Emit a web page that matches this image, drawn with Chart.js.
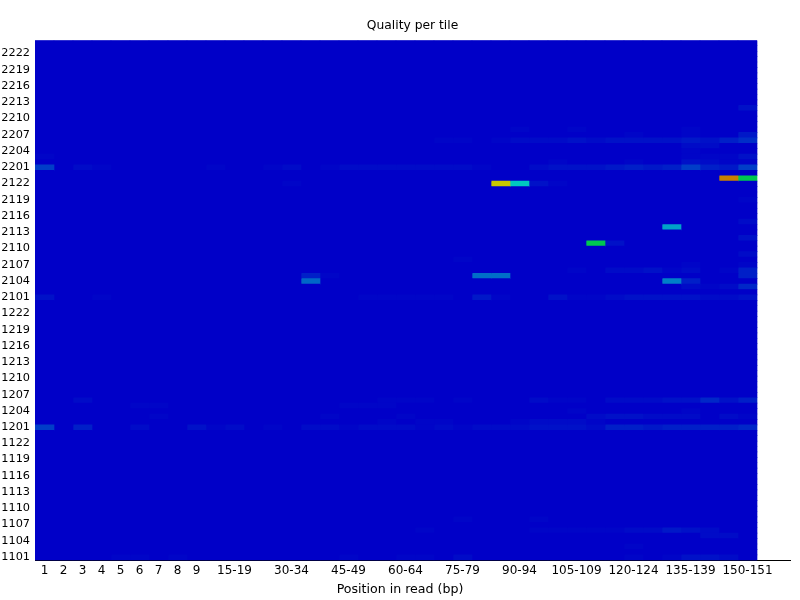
<!DOCTYPE html>
<html>
<head>
<meta charset="utf-8">
<title>Quality per tile</title>
<script src="https://cdn.jsdelivr.net/npm/chart.js@4"></script>
<style>
    body { margin: 0; background: #fff; }
    canvas { display: block; }
</style>
</head>
<body>
<canvas id="tileChart" width="800" height="600"></canvas>
<script>
// Positions en abscisse (bp)
const positions = ['1', '2', '3', '4', '5', '6', '7', '8', '9',
    '10-14', '15-19', '20-24', '25-29', '30-34', '35-39', '40-44', '45-49', '50-54', '55-59',
    '60-64', '65-69', '70-74', '75-79', '80-84', '85-89', '90-94', '95-99', '100-104', '105-109',
    '110-114', '115-119', '120-124', '125-129', '130-134', '135-139', '140-144', '145-149', '150-151'];
const positionTicks = ['1', '2', '3', '4', '5', '6', '7', '8', '9', '15-19', '30-34', '45-49', '60-64',
    '75-79', '90-94', '105-109', '120-124', '135-139', '150-151'];

// Tuiles, de haut en bas
const tiles = [2224, 2223, 2222, 2221, 2220, 2219, 2218, 2217, 2216, 2215, 2214, 2213, 2212, 2211, 2210, 2209,
    2208, 2207, 2206, 2205, 2204, 2203, 2202, 2201,
    2124, 2123, 2122, 2121, 2120, 2119, 2118, 2117, 2116, 2115, 2114, 2113, 2112, 2111, 2110, 2109,
    2108, 2107, 2106, 2105, 2104, 2103, 2102, 2101,
    1224, 1223, 1222, 1221, 1220, 1219, 1218, 1217, 1216, 1215, 1214, 1213, 1212, 1211, 1210, 1209,
    1208, 1207, 1206, 1205, 1204, 1203, 1202, 1201,
    1124, 1123, 1122, 1121, 1120, 1119, 1118, 1117, 1116, 1115, 1114, 1113, 1112, 1111, 1110, 1109,
    1108, 1107, 1106, 1105, 1104, 1103, 1102, 1101];
const tileTicks = [2222, 2219, 2216, 2213, 2210, 2207, 2204, 2201, 2122, 2119, 2116, 2113, 2110, 2107, 2104, 2101,
    1222, 1219, 1216, 1213, 1210, 1207, 1204, 1201, 1122, 1119, 1116, 1113, 1110, 1107, 1104, 1101];

// Valeurs (0 = bleu de fond), une ligne par tuile non vide
const t2212 = [0,0,0,0,0,0,0,0,0,0, 0,0,0,0,0,0,0,0,0,0, 0,0,0,0,0,0,0,0,0,0, 0,0,0,0,0,0,0,3];
const t2208 = [0,0,0,0,0,0,0,0,0,0, 0,0,0,0,0,0,0,0,0,0, 0,0,0,0,0,1,0,0,1,0, 0,0,0,0,1,0,0,0];
const t2207 = [0,0,0,0,0,0,0,0,0,0, 0,0,0,0,0,0,0,0,0,0, 0,0,0,0,0,0,0,0,0,0, 0,1,0,0,1,0,0,4];
const t2206 = [0,0,0,0,0,0,0,0,0,0, 0,0,0,0,0,0,0,0,0,0, 0,1,1,0,1,2,2,2,3,2, 3,3,3,3,4,3,5,7];
const t2205 = [0,0,0,0,0,0,0,0,0,0, 0,0,0,0,0,0,0,0,0,0, 0,0,0,0,0,0,0,0,0,0, 0,0,0,0,2,2,0,0];
const t2204 = [0,0,0,0,0,0,0,0,0,0, 0,0,0,0,0,0,0,0,0,0, 0,0,0,0,0,0,0,0,0,0, 0,0,0,0,1,0,0,0];
const t2203 = [1,0,0,0,0,0,0,0,0,0, 0,0,0,0,0,0,0,0,0,0, 0,0,0,0,0,0,0,0,0,0, 0,0,0,0,1,1,1,3];
const t2202 = [0,0,0,0,0,0,0,0,0,0, 0,0,0,0,0,0,0,0,0,0, 0,0,0,0,0,0,0,1,0,0, 0,1,0,0,3,2,1,1];
const t2201 = [9,0,2,1,0,0,0,0,0,1, 0,0,1,2,0,1,2,2,2,2, 2,2,2,1,0,0,2,3,3,3, 4,5,4,5,9,5,4,9];
const t2123 = [0,0,0,0,0,0,0,0,0,0, 0,0,0,0,0,0,0,0,0,0, 0,0,0,0,0,0,0,0,0,0, 0,0,0,0,0,0,84,40];
const t2122 = [0,0,0,0,0,0,0,0,0,0, 0,0,0,1,0,0,0,0,0,0, 0,0,0,0,75,26,3,1,0,0, 0,0,0,0,0,0,0,0];
const t2119 = [0,0,0,0,0,0,0,0,0,0, 0,0,0,0,0,0,0,0,0,0, 0,0,0,0,0,0,0,0,0,0, 0,0,0,0,0,0,0,1];
const t2115 = [0,0,0,0,0,0,0,0,0,0, 0,0,0,0,0,0,0,0,0,0, 0,0,0,0,0,0,0,0,0,0, 0,0,0,0,0,0,0,2];
const t2114 = [0,0,0,0,0,0,0,0,0,0, 0,0,0,0,0,0,0,0,0,0, 0,0,0,0,0,0,0,0,0,0, 0,0,0,21,0,0,0,0];
const t2112 = [0,0,0,0,0,0,0,0,0,0, 0,0,0,0,0,0,0,0,0,0, 0,0,0,0,0,0,0,0,0,0, 0,0,0,0,0,0,0,3];
const t2111 = [0,0,0,0,0,0,0,0,0,0, 0,0,0,0,0,0,0,0,0,0, 0,0,0,0,0,0,0,0,0,40, 3,0,0,0,0,0,0,0];
const t2109 = [0,0,0,0,0,0,0,0,0,0, 0,0,0,0,0,0,0,0,0,0, 0,0,0,0,0,0,0,0,0,0, 0,0,0,0,0,0,0,2];
const t2108 = [0,0,0,0,0,0,0,0,0,0, 0,0,0,0,0,0,0,0,0,0, 0,0,1,0,0,0,0,0,0,0, 0,0,0,0,0,0,0,0];
const t2107 = [0,0,0,0,0,0,0,0,0,0, 0,0,0,0,0,0,0,0,0,0, 0,0,0,0,0,0,0,0,0,0, 0,0,0,0,1,0,0,1];
const t2106 = [0,0,0,0,0,0,0,0,0,0, 0,0,0,0,0,0,0,0,0,0, 0,0,0,0,0,0,0,0,1,0, 2,2,3,1,2,0,1,5];
const t2105 = [0,0,0,0,0,0,0,0,0,0, 0,0,0,0,5,1,0,0,0,0, 0,0,0,15,15,0,0,0,0,0, 0,0,0,0,0,0,0,5];
const t2104 = [0,0,0,0,0,0,0,0,0,0, 0,0,0,0,14,0,0,0,0,0, 0,0,0,0,0,0,0,0,0,0, 0,0,0,17,5,0,0,0];
const t2103 = [0,0,0,0,0,0,0,0,0,0, 0,0,0,0,0,0,0,0,0,0, 0,0,0,0,0,0,0,0,0,0, 0,0,0,0,2,1,2,6];
const t2101 = [3,0,0,1,0,0,0,0,0,0, 0,0,0,0,0,0,0,1,1,1, 1,1,0,4,1,0,0,3,1,1, 2,3,3,3,3,2,2,3];
const t1206 = [0,0,2,0,0,0,0,0,0,0, 0,0,0,0,0,0,0,0,1,1, 1,0,1,0,0,0,2,1,1,0, 2,2,2,3,3,6,3,5];
const t1205 = [0,0,0,0,0,1,1,0,0,0, 0,0,0,0,0,0,1,1,1,0, 0,0,0,0,0,0,0,0,0,0, 0,0,0,0,0,0,0,0];
const t1204 = [0,0,0,0,0,0,0,0,0,0, 0,0,0,0,0,0,0,0,0,0, 0,0,0,0,0,0,0,0,1,0, 0,0,0,0,1,0,0,0];
const t1203 = [0,0,0,0,0,0,1,0,0,0, 0,0,0,0,0,1,0,0,0,1, 0,0,0,0,0,0,0,0,0,2, 3,3,2,2,2,0,2,1];
const t1202 = [0,0,0,0,0,0,0,0,0,0, 0,0,0,0,0,0,0,0,1,0, 1,1,0,0,0,1,2,2,2,1, 0,0,0,0,0,0,0,0];
const t1201 = [9,0,5,0,0,2,0,0,3,1, 2,0,1,0,2,2,1,2,2,2, 1,2,1,2,2,2,3,3,3,2, 5,5,4,5,5,5,5,6];
const t1108 = [0,0,0,0,0,0,0,0,0,0, 0,0,0,0,0,0,0,0,0,0, 0,0,1,0,0,0,1,0,0,0, 0,0,0,0,0,0,0,0];
const t1106 = [0,0,0,0,0,0,0,0,0,0, 0,0,0,0,0,0,0,0,0,0, 1,0,0,0,0,0,1,1,1,1, 1,2,2,4,3,2,0,0];
const t1105 = [0,0,0,0,0,0,0,0,0,0, 0,0,0,0,0,0,0,0,0,0, 0,0,0,0,0,0,0,0,0,0, 0,0,0,0,0,2,2,0];
const t1103 = [0,0,0,0,0,0,0,0,0,0, 0,0,0,0,0,0,0,0,0,0, 0,0,0,0,0,0,0,0,0,0, 0,1,0,0,0,0,0,0];
const t1101 = [0,0,0,0,1,1,0,1,0,0, 0,0,0,0,0,0,1,0,0,1, 1,0,2,0,0,0,0,0,0,0, 0,1,0,1,3,3,2,0];

const tileValues = {
    2212: t2212, 2208: t2208, 2207: t2207, 2206: t2206, 2205: t2205, 2204: t2204, 2203: t2203, 2202: t2202,
    2201: t2201, 2123: t2123, 2122: t2122, 2119: t2119, 2115: t2115, 2114: t2114, 2112: t2112, 2111: t2111,
    2109: t2109, 2108: t2108, 2107: t2107, 2106: t2106, 2105: t2105, 2104: t2104, 2103: t2103, 2101: t2101,
    1206: t1206, 1205: t1205, 1204: t1204, 1203: t1203, 1202: t1202, 1201: t1201, 1108: t1108, 1106: t1106,
    1105: t1105, 1103: t1103, 1101: t1101
};

// Gradient bleu -> cyan -> vert -> jaune -> rouge
function heatColor(v) {
    if (v < 25) return `rgb(0,${Math.round(200 * Math.pow(v / 25, 1.15))},200)`;
    if (v < 50) return `rgb(0,200,${Math.round(200 - 8 * (v - 25))})`;
    if (v < 75) return `rgb(${Math.round(8 * (v - 50))},200,0)`;
    return `rgb(200,${Math.round(200 - 8 * (v - 75))},0)`;
}

const font = { family: 'DejaVu Sans', size: 12, lineHeight: 1.25 };

// Une pile par colonne : chaque case a une largeur de 1, la couleur porte la valeur
const datasets = positions.map((pos, col) => ({
    label: pos,
    data: tiles.map(() => 1),
    backgroundColor: tiles.map(t => heatColor(tileValues[t] ? tileValues[t][col] : 0)),
    borderWidth: 0,
    barPercentage: 1,
    categoryPercentage: 1
}));

// Fond bleu sous les cases, pour masquer les joints entre lignes
const heatBackdrop = {
    id: 'heatBackdrop',
    beforeDatasetsDraw(chart) {
        const { ctx, chartArea, scales } = chart;
        ctx.save();
        ctx.fillStyle = heatColor(0);
        ctx.fillRect(chartArea.left, chartArea.top,
            scales.x.getPixelForValue(positions.length) - chartArea.left, chartArea.height);
        ctx.restore();
    }
};

new Chart(document.getElementById('tileChart'), {
    type: 'bar',
    data: { labels: tiles, datasets: datasets },
    plugins: [heatBackdrop],
    options: {
        indexAxis: 'y',
        responsive: false,
        animation: false,
        devicePixelRatio: 1,
        plugins: {
            legend: { display: false },
            tooltip: { enabled: false },
            title: {
                display: true,
                text: 'Quality per tile',
                color: '#000',
                fullSize: false,
                font: { ...font, size: 12.3, weight: 'normal' },
                padding: { top: 18, bottom: 7 }
            },
            subtitle: {
                display: true,
                position: 'bottom',
                text: 'Position in read (bp)',
                color: '#000',
                font: { ...font, size: 12.6 },
                padding: { top: 0, bottom: 2 }
            }
        },
        scales: {
            x: {
                type: 'linear',
                stacked: true,
                min: 0,
                max: 755 / 19, // l'axe depasse la derniere colonne jusqu'a x=790
                grid: { display: false, drawTicks: false },
                border: { display: true, color: '#000', width: 1 },
                afterBuildTicks: axis => {
                    axis.ticks = positionTicks.map(p => ({ value: positions.indexOf(p) + 0.5 }));
                },
                afterFit: axis => { axis.height = 22; },
                ticks: {
                    color: '#000',
                    font: font,
                    padding: 3,
                    autoSkip: false,
                    maxRotation: 0,
                    callback: value => positions[Math.floor(value)]
                }
            },
            y: {
                stacked: true,
                grid: { display: false, drawTicks: false },
                border: { display: false },
                afterFit: axis => { axis.width = 35; },
                ticks: {
                    color: '#000',
                    font: { ...font, size: 11.3 },
                    padding: 5,
                    autoSkip: false,
                    labelOffset: -0.5,
                    callback: function (value) {
                        const tile = tiles[value];
                        return tileTicks.includes(tile) ? String(tile) : '';
                    }
                }
            },
            // marge droite de 10 px, hors de la zone du titre d'axe
            rightMargin: {
                position: 'right',
                grid: { display: false },
                border: { display: false },
                ticks: { display: false },
                afterFit: axis => { axis.width = 10; }
            }
        }
    }
});
</script>
</body>
</html>
